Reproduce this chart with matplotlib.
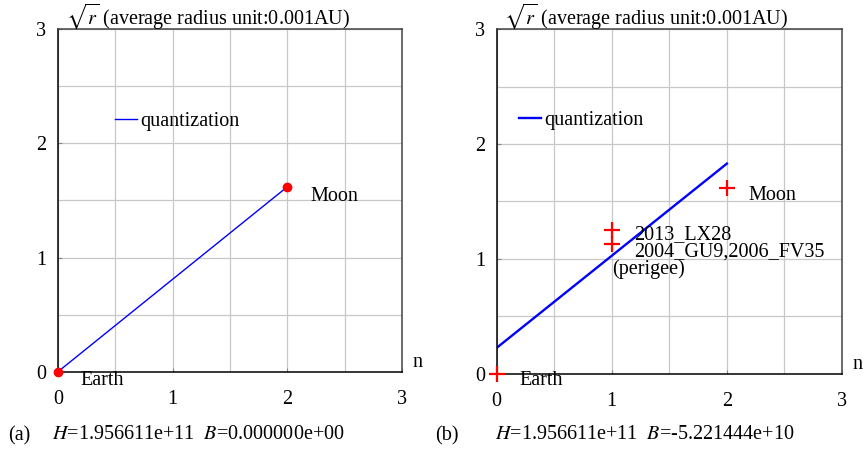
import matplotlib
matplotlib.use('Agg')
import matplotlib.pyplot as plt
from matplotlib.ticker import MultipleLocator

plt.rcParams['font.family'] = ['Liberation Serif', 'DejaVu Serif']
plt.rcParams['mathtext.fontset'] = 'stix'
FS = 14.5

# panel (a): pure quantization, B = 0
n_a = [0, 2]
r_a = [0, 1.62]
obs_a_n = [0, 2]
obs_a_r = [0, 1.62]

# panel (b): fitted quantization with B
n_b = [0, 2]
r_b = [0.225, 1.83]
obs_b_n = [0, 2, 1, 1]
obs_b_r = [0, 1.615, 1.25, 1.13]

caption_a = "$H$=1.956611e+11  $B$=0.000000e+00"
caption_b = "$H$=1.956611e+11  $B$=-5.221444e+10"
title = r"$\sqrt{r}$ (average radius unit:0.001AU)"

fig = plt.figure(figsize=(8.63, 4.55), dpi=100)
ax1 = fig.add_axes([0.0672, 0.1831, 0.3986, 0.7525])
ax2 = fig.add_axes([0.5755, 0.1787, 0.4002, 0.7570])


def style_axes(ax):
    ax.set_xlim(0, 3)
    ax.set_ylim(0, 3)
    ax.xaxis.set_major_locator(MultipleLocator(1))
    ax.yaxis.set_major_locator(MultipleLocator(1))
    ax.xaxis.set_minor_locator(MultipleLocator(0.5))
    ax.yaxis.set_minor_locator(MultipleLocator(0.5))
    ax.grid(True, which='both', color='#c8c8c8', linewidth=0.9)
    ax.set_axisbelow(True)
    ax.tick_params(which='major', direction='in', length=3, color='#888888',
                   labelsize=FS)
    ax.tick_params(axis='y', pad=8.5)
    ax.tick_params(axis='x', pad=13)
    ax.tick_params(which='minor', length=0)
    for side in ['left', 'bottom']:
        ax.spines[side].set_color('black')
        ax.spines[side].set_linewidth(1.1)
    for side in ['top', 'right']:
        ax.spines[side].set_color('#444444')
        ax.spines[side].set_linewidth(1.1)
    ax.text(0.022, 1.017, title, transform=ax.transAxes, fontsize=FS,
            va='baseline', ha='left')
    ax.text(1.031, 0.013, "n", transform=ax.transAxes, fontsize=FS,
            va='baseline', ha='left')


style_axes(ax1)
style_axes(ax2)

# (a)
ax1.plot(n_a, r_a, color='blue', linewidth=1.0, label='quantization')
ax1.plot(obs_a_n, obs_a_r, 'o', color='red', markersize=6, clip_on=False,
         zorder=5)
ax1.text(2.198, 1.496, "Moon", fontsize=FS, va='baseline')
ax1.text(0.20, -0.12, "Earth", fontsize=FS, va='baseline')
ax1.legend(loc='center left', bbox_to_anchor=(0.166, 0.732), frameon=False,
           fontsize=FS, handlelength=1.1, handletextpad=0.15, borderpad=0,
           borderaxespad=0)

# (b)
ax2.plot(n_b, r_b, color='blue', linewidth=1.7, label='quantization')
ax2.plot(obs_b_n, obs_b_r, '+', color='red', markersize=11,
         markeredgewidth=1.6, clip_on=False, zorder=5)
ax2.text(2.19, 1.51, "Moon", fontsize=FS, va='baseline')
ax2.text(0.196, -0.10, "Earth", fontsize=FS, va='baseline')
ax2.text(1.193, 1.175, "2013_LX28", fontsize=FS, va='baseline')
ax2.text(1.193, 1.02, "2004_GU9,2006_FV35", fontsize=FS, va='baseline')
ax2.text(0.999, 0.868, "(perigee)", fontsize=FS, va='baseline')
ax2.legend(loc='center left', bbox_to_anchor=(0.0646, 0.734), frameon=False,
           fontsize=FS, handlelength=1.1, handletextpad=0.15, borderpad=0,
           borderaxespad=0)

fig.text(0.0093, 0.033, "(a)", fontsize=FS, va='baseline')
fig.text(0.0599, 0.036, caption_a, fontsize=FS, va='baseline')
fig.text(0.504, 0.033, "(b)", fontsize=FS, va='baseline')
fig.text(0.5736, 0.036, caption_b, fontsize=FS, va='baseline')

fig.savefig('out.png', dpi=100)
